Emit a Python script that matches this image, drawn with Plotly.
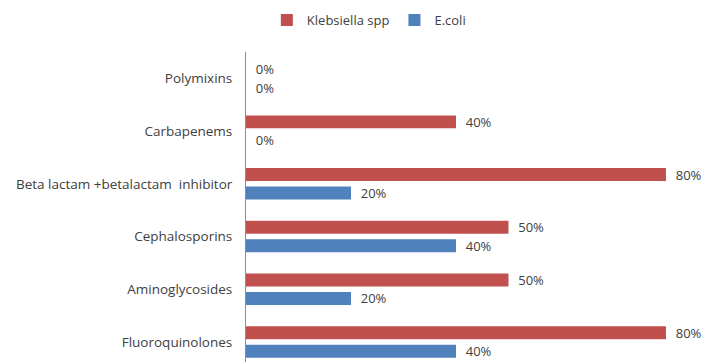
import plotly.graph_objects as go

categories = ["Polymixins", "Carbapenems", "Beta lactam +betalactam  inhibitor",
              "Cephalosporins", "Aminoglycosides", "Fluoroquinolones"]
klebsiella = [0, 40, 80, 50, 50, 80]
ecoli = [0, 0, 20, 40, 20, 40]

RED = "#C0504D"
BLUE = "#4F81BD"
FONT = "Open Sans"
TXT = "#404040"

fig = go.Figure()
fig.add_trace(go.Bar(
    y=categories, x=klebsiella, orientation="h", name="Klebsiella spp",
    marker=dict(color=RED, line=dict(width=0)),
    texttemplate="&nbsp;&nbsp;%{x}%", textposition="outside", constraintext="none",
    textfont=dict(family=FONT, size=13, color=TXT), cliponaxis=False,
))
fig.add_trace(go.Bar(
    y=categories, x=ecoli, orientation="h", name="E.coli",
    marker=dict(color=BLUE, line=dict(width=0)),
    texttemplate="&nbsp;&nbsp;%{x}%", textposition="outside", constraintext="none",
    textfont=dict(family=FONT, size=13, color=TXT), cliponaxis=False,
))

fig.update_layout(
    width=701, height=362,
    margin=dict(l=246, r=0, t=52, b=0, autoexpand=False),
    paper_bgcolor="white", plot_bgcolor="white",
    barmode="group", bargap=0.30, bargroupgap=0.30,
    font=dict(family=FONT, size=13, color=TXT),
    legend=dict(orientation="h", x=0.27, y=1.103, xanchor="center", yanchor="middle",
                font=dict(family=FONT, size=13, color=TXT),
                itemwidth=30, traceorder="normal"),
)
fig.update_xaxes(range=[0, 86.67], showgrid=False, showticklabels=False,
                 zeroline=False, showline=False, ticks="")
fig.update_yaxes(range=[5.38, -0.5], showgrid=False, zeroline=False,
                 showline=True, linecolor="#8C8C8C", linewidth=1, ticks="",
                 ticklabelstandoff=10, automargin=False,
                 tickfont=dict(family=FONT, size=13.5, color=TXT))

fig.write_html("out.html")
